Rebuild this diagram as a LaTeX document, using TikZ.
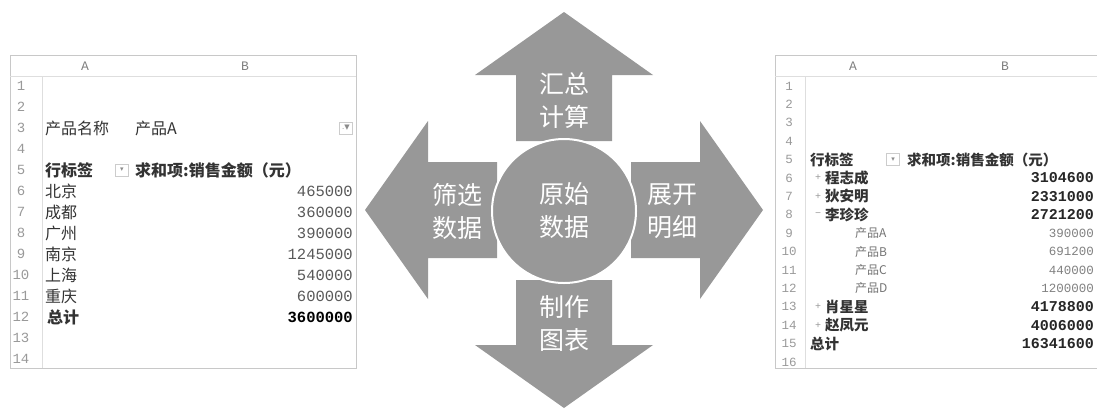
\documentclass[tikz,border=0pt]{standalone}
\usepackage{fontspec}
\newfontfamily\cjk{Noto Sans CJK SC}
\newfontfamily\mono{Liberation Mono}
\newfontfamily\sym{DejaVu Sans}
\definecolor{arrowgray}{RGB}{152,152,152}
\definecolor{gridgray}{RGB}{200,200,200}

\begin{document}
\begin{tikzpicture}[x=1pt,y=-1pt,
    cellL/.style={anchor=west,inner sep=0pt,text=black!80,font=\cjk\fontsize{16}{16}\selectfont},
    cellR/.style={anchor=west,inner sep=0pt,text=black!80,font=\cjk\fontsize{14.5}{14.5}\selectfont},
    valL/.style={anchor=east,inner sep=0pt,text=black!65,font=\mono\fontsize{15.5}{15.5}\selectfont},
    valR/.style={anchor=east,inner sep=0pt,text=black!85,font=\mono\bfseries\fontsize{15}{15}\selectfont},
    subval/.style={anchor=east,inner sep=0pt,text=black!50,font=\mono\fontsize{12.5}{12.5}\selectfont},
    rnum/.style={inner sep=0pt,text=black!40,font=\mono\fontsize{#1}{#1}\selectfont},
    colhead/.style={inner sep=0pt,text=black!50,font=\mono\fontsize{13}{13}\selectfont},
    btn/.style={draw=black!20,fill=white,minimum width=13pt,minimum height=12pt,inner sep=0pt,
        text=black!45,font=\sym\fontsize{7}{7}\selectfont},
    pm/.style={inner sep=0pt,text=black!40,font=\mono\fontsize{10}{10}\selectfont},
    arrowtext/.style={text=white,align=center,font=\cjk\fontsize{25}{33}\selectfont}]
    \useasboundingbox (0,0) rectangle (1097,408);

    \draw [gridgray,thin] (10,55) rectangle (356,368);
    \draw [gridgray!60] (10,76) -- (356,76);
    \draw [gridgray!60] (42,76) -- (42,368);
    \node (LA) [colhead] at (85,66) {A};
    \node (LB) [colhead] at (245,66) {B};
    \foreach \i in {1,...,14}
        \node (ln\i) [rnum=14] at (21,{86+(\i-1)*21}) {\i};
    \node (pname) [cellL] at (45,128) {产品名称};
    \node (pA) [cellL] at (135,128) {产品A};
    \node (filt) [btn] at (346,128) {.▼};
    \node (rowlabL) [cellL,font=\cjk\bfseries\fontsize{16}{16}\selectfont] at (45,170) {行标签};
    \node (dropL) [btn] at (122,170) {▾};
    \node (sumL) [cellL,font=\cjk\bfseries\fontsize{16}{16}\selectfont] at (135,170) {求和项:销售金额（元）};
    \node (bj) [cellL] at (45,191) {北京};
    \node (cd) [cellL] at (45,212) {成都};
    \node (gz) [cellL] at (45,233) {广州};
    \node (nj) [cellL] at (45,254) {南京};
    \node (sh) [cellL] at (45,275) {上海};
    \node (cq) [cellL] at (45,296) {重庆};
    \node (totL) [cellL,font=\cjk\bfseries\fontsize{16}{16}\selectfont] at (47,317) {总计};
    \node (vbj) [valL] at (353,191) {465000};
    \node (vcd) [valL] at (353,212) {360000};
    \node (vgz) [valL] at (353,233) {390000};
    \node (vnj) [valL] at (353,254) {1245000};
    \node (vsh) [valL] at (353,275) {540000};
    \node (vcq) [valL] at (353,296) {600000};
    \node (vtotL) [valL,text=black,font=\mono\bfseries\fontsize{15.5}{15.5}\selectfont] at (353,317) {3600000};

    \fill [arrowgray] (516,141) -- (516,75) -- (475,75) -- (564,12) -- (653,75) -- (612,75) -- (612,141) -- cycle;
    \fill [arrowgray] (516,280) -- (516,345) -- (475,345) -- (564,408) -- (653,345) -- (612,345) -- (612,280) -- cycle;
    \fill [arrowgray] (497,162) -- (428,162) -- (428,121) -- (365,210) -- (428,299) -- (428,258) -- (497,258) -- cycle;
    \fill [arrowgray] (631,162) -- (700,162) -- (700,121) -- (763,210) -- (700,299) -- (700,258) -- (631,258) -- cycle;
    \node (src) [circle,fill=arrowgray,draw=white,line width=2pt,minimum size=144pt] at (564,211) {};
    \node (srctext) [arrowtext] at (564,211) {原始\\数据};
    \node (sum) [arrowtext] at (564,101) {汇总\\计算};
    \node (filter) [arrowtext] at (457,211) {筛选\\数据};
    \node (detail) [arrowtext] at (672,211) {展开\\明细};
    \node (chart) [arrowtext] at (564,324) {制作\\图表};

    \draw [gridgray,thin] (1097,55) -- (775,55) -- (775,368) -- (1097,368);
    \draw [gridgray!60] (775,76) -- (1097,76);
    \draw [gridgray!60] (805,76) -- (805,368);
    \node (RA) [colhead] at (853,66) {A};
    \node (RB) [colhead] at (1005,66) {B};
    \foreach \i in {1,...,16}
        \node (rn\i) [rnum=12.5] at (789,{86+(\i-1)*18.4}) {\i};
    \node (rowlabR) [cellR,font=\cjk\bfseries\fontsize{14.5}{14.5}\selectfont] at (810,159.6) {行标签};
    \node (dropR) [btn] at (893,159.6) {▾};
    \node (sumR) [cellR,font=\cjk\bfseries\fontsize{14.5}{14.5}\selectfont] at (907,159.6) {求和项:销售金额（元）};
    \node (pm6) [pm] at (818,178) {+};
    \node (pm7) [pm] at (818,196.4) {+};
    \node (pm8) [pm] at (818,214.8) {−};
    \node (pm13) [pm] at (818,306.8) {+};
    \node (pm14) [pm] at (818,325.2) {+};
    \node (czc) [cellR,font=\cjk\bfseries\fontsize{14.5}{14.5}\selectfont] at (825,178) {程志成};
    \node (dam) [cellR,font=\cjk\bfseries\fontsize{14.5}{14.5}\selectfont] at (825,196.4) {狄安明};
    \node (lzz) [cellR,font=\cjk\bfseries\fontsize{14.5}{14.5}\selectfont] at (825,214.8) {李珍珍};
    \node (prA) [cellR,text=black!55,font=\cjk\fontsize{12}{12}\selectfont] at (855,233.2) {产品A};
    \node (prB) [cellR,text=black!55,font=\cjk\fontsize{12}{12}\selectfont] at (855,251.6) {产品B};
    \node (prC) [cellR,text=black!55,font=\cjk\fontsize{12}{12}\selectfont] at (855,270) {产品C};
    \node (prD) [cellR,text=black!55,font=\cjk\fontsize{12}{12}\selectfont] at (855,288.4) {产品D};
    \node (xxx) [cellR,font=\cjk\bfseries\fontsize{14.5}{14.5}\selectfont] at (825,306.8) {肖星星};
    \node (zfy) [cellR,font=\cjk\bfseries\fontsize{14.5}{14.5}\selectfont] at (825,325.2) {赵凤元};
    \node (totR) [cellR,font=\cjk\bfseries\fontsize{14.5}{14.5}\selectfont] at (810,343.6) {总计};
    \node (vczc) [valR] at (1094,178) {3104600};
    \node (vdam) [valR] at (1094,196.4) {2331000};
    \node (vlzz) [valR] at (1094,214.8) {2721200};
    \node (vprA) [subval] at (1094,233.2) {390000};
    \node (vprB) [subval] at (1094,251.6) {691200};
    \node (vprC) [subval] at (1094,270) {440000};
    \node (vprD) [subval] at (1094,288.4) {1200000};
    \node (vxxx) [valR] at (1094,306.8) {4178800};
    \node (vzfy) [valR] at (1094,325.2) {4006000};
    \node (vtotR) [valR] at (1094,343.6) {16341600};
\end{tikzpicture}
\end{document}
